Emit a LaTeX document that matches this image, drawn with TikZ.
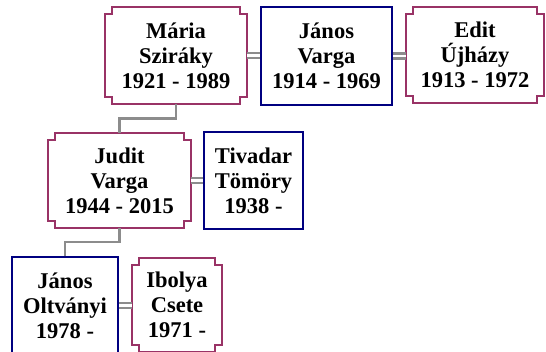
\documentclass[tikz,border=0pt]{standalone}
\usepackage{fontspec}
\setmainfont{Liberation Serif}
\usetikzlibrary{calc}

\definecolor{herline}{RGB}{153,51,102}
\definecolor{hisline}{RGB}{0,0,128}
\definecolor{linkgray}{RGB}{140,140,140}

\tikzset{
  person/.style={inner sep=0pt, align=center, text=black,
    font=\bfseries\fontsize{22.5}{25}\selectfont},
  manbox/.style={person, draw=hisline, line width=2.4pt},
  womanbox/.style={person},
  womanline/.style={draw=herline, line width=2.4pt},
  marriage/.style={draw=linkgray, line width=2.4pt, double=white, double distance=2.4pt},
  descent/.style={draw=linkgray, line width=2.4pt},
}

% notched outline of a woman's box
\newcommand{\notchedbox}[2][7]{%
  \draw[womanline]
    ($(#2.north west)+(0,-#1)$) -- ++(#1,0) -- ++(0,#1)
    -- ($(#2.north east)+(-#1,0)$) -- ++(0,-#1) -- ++(#1,0)
    -- ($(#2.south east)+(0,#1)$) -- ++(-#1,0) -- ++(0,-#1)
    -- ($(#2.south west)+(#1,0)$) -- ++(0,#1) -- ++(-#1,0) -- cycle;}

\begin{document}
\begin{tikzpicture}[x=1pt,y=1pt]
\useasboundingbox (0,0) rectangle (546,352);
\clip (0,0) rectangle (546,352);

% first generation
\node[womanbox, minimum width=142pt, minimum height=97pt] (maria) at (176,296.5) {Mária\\Sziráky\\1921 - 1989};
\node[manbox, minimum width=131pt, minimum height=98pt] (janosv) at (326.5,296) {János\\Varga\\1914 - 1969};
\node[womanbox, minimum width=138pt, minimum height=96pt] (edit) at (475,297) {Edit\\Újházy\\1913 - 1972};

% second generation
\node[womanbox, minimum width=143pt, minimum height=95pt] (judit) at (119.5,171.5) {Judit\\Varga\\1944 - 2015};
\node[manbox, minimum width=99pt, minimum height=97pt] (tivadar) at (253.5,171.5) {Tivadar\\Tömöry\\1938 -};

% third generation
\node[manbox, minimum width=106pt, minimum height=97pt] (janoso) at (65,46.5) {János\\Oltványi\\1978 -};
\node[womanbox, minimum width=90pt, minimum height=94pt] (ibolya) at (177,47) {Ibolya\\Csete\\1971 -};

\foreach \w in {maria,edit,judit,ibolya} {\notchedbox{\w}}

% marriages
\draw[marriage] (maria.east) -- (maria.east -| janosv.west);
\draw[marriage] (janosv.east) -- (janosv.east -| edit.west);
\draw[marriage] (judit.east) -- (judit.east -| tivadar.west);
\draw[marriage] (janoso.east) -- (janoso.east -| ibolya.west);

% descent
\coordinate (m1) at ($(maria.south)!0.5!(judit.north)$);
\draw[descent] (maria.south) -- (maria.south |- m1) -| (judit.north);
\coordinate (m2) at ($(judit.south)!0.5!(janoso.north)$);
\draw[descent] (judit.south) -- (judit.south |- m2) -| (janoso.north);
\end{tikzpicture}
\end{document}
